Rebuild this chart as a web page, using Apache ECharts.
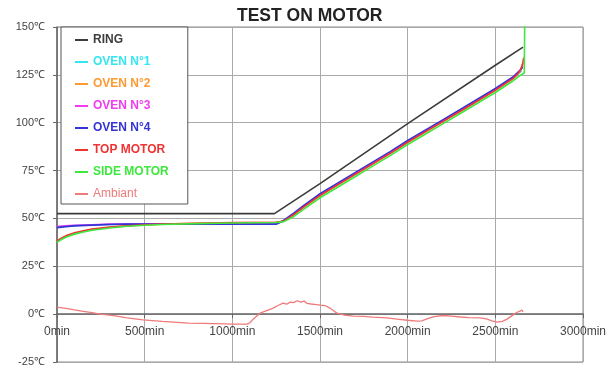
<!DOCTYPE html>
<html>
<head>
<meta charset="utf-8">
<script src="https://cdn.jsdelivr.net/npm/echarts@6/dist/echarts.min.js"></script>
<style>
  html, body { margin: 0; padding: 0; background: #fff; }
  #chart { width: 613px; height: 371px; }
</style>
</head>
<body>
<div id="chart"></div>
<script>
// Axis ticks
const xTicks = [0, 500, 1000, 1500, 2000, 2500, 3000];
const yTicks = [-25, 0, 25, 50, 75, 100, 125, 150];

// Temperature logs (time in minutes, temperature in °C)
const ringTime = [0, 1240, 1500, 2000, 2500, 2658];
const ringTemp = [52.5, 52.5, 68.2, 99.5, 130, 139.5];

const oven1Time = [0, 50, 100, 200, 300, 400, 500, 750, 1000, 1250, 1290, 1350, 1400, 1500, 1600, 1700, 1800, 1900, 2000, 2100, 2200, 2300, 2400, 2500, 2600, 2630, 2650];
const oven1Temp = [45.6, 46, 46.3, 46.6, 46.9, 47, 47.1, 47.1, 47.1, 47.2, 48.4, 52, 55.5, 62.1, 67.6, 73.1, 78.6, 84.1, 89.9, 95.3, 100.7, 106.1, 111.6, 117.1, 123.1, 125.4, 127];

const oven2Time = [0, 25, 50, 100, 150, 200, 300, 400, 500, 600, 800, 1000, 1250, 1290, 1350, 1400, 1500, 1600, 1700, 1800, 1900, 2000, 2100, 2200, 2300, 2400, 2500, 2600, 2640, 2660];
const oven2Temp = [38, 39.5, 40.7, 42.3, 43.3, 44.2, 45.3, 46.1, 46.6, 47, 47.4, 47.7, 48, 48.6, 51.9, 55.4, 61.9, 67.4, 72.9, 78.4, 83.9, 89.7, 95.1, 100.5, 105.9, 111.4, 116.9, 122.9, 126.5, 131.5];

const oven3Time = [0, 50, 100, 200, 300, 400, 500, 750, 1000, 1250, 1290, 1350, 1400, 1500, 1600, 1700, 1800, 1900, 2000, 2100, 2200, 2300, 2400, 2500, 2600, 2640, 2656];
const oven3Temp = [45.8, 46.1, 46.4, 46.7, 47, 47.1, 47.2, 47.2, 47.2, 47.3, 48.6, 52.3, 55.8, 62.4, 67.9, 73.4, 78.9, 84.4, 90.2, 95.6, 101, 106.4, 111.9, 117.4, 123.4, 127, 130];

const oven4Time = [0, 50, 100, 200, 300, 400, 500, 750, 1000, 1250, 1290, 1350, 1400, 1500, 1600, 1700, 1800, 1900, 2000, 2100, 2200, 2300, 2400, 2500, 2600, 2640, 2656];
const oven4Temp = [45.2, 45.7, 46.1, 46.5, 46.8, 47, 47, 47, 47, 47, 48.8, 52.8, 56.3, 62.9, 68.4, 73.9, 79.4, 84.9, 90.7, 96.1, 101.5, 106.9, 112.4, 117.9, 123.9, 127.3, 129];

const topMotorTime = [0, 25, 50, 100, 150, 200, 300, 400, 500, 600, 800, 1000, 1250, 1290, 1350, 1400, 1500, 1600, 1700, 1800, 1900, 2000, 2100, 2200, 2300, 2400, 2500, 2600, 2620, 2645, 2655, 2662];
const topMotorTemp = [38.2, 39.7, 40.9, 42.5, 43.5, 44.4, 45.5, 46.2, 46.7, 47.1, 47.5, 47.8, 48, 48.5, 52, 55.5, 62, 67.5, 73, 78.5, 84, 89.8, 95.2, 100.6, 106, 111.5, 117, 123, 124.7, 127.8, 130.5, 134];

const sideMotorTime = [0, 25, 50, 100, 150, 200, 300, 400, 500, 600, 800, 1000, 1250, 1290, 1350, 1400, 1500, 1600, 1700, 1800, 1900, 2000, 2100, 2200, 2300, 2400, 2500, 2600, 2640, 2665, 2668, 2668];
const sideMotorTemp = [37.5, 39, 40.2, 41.8, 42.9, 43.8, 45, 45.9, 46.4, 46.8, 47.3, 47.6, 47.9, 48.2, 50.9, 54.3, 60.8, 66.3, 71.8, 77.3, 82.8, 88.6, 94, 99.4, 104.8, 110.3, 115.8, 121.8, 124.6, 126, 126.5, 156];

const ambientTime = [0, 50, 100, 150, 200, 245, 300, 350, 400, 490, 600, 750, 900, 1000, 1085, 1100, 1120, 1158, 1200, 1230, 1260, 1290, 1310, 1330, 1350, 1370, 1390, 1410, 1426, 1450, 1480, 1500, 1530, 1560, 1597, 1640, 1690, 1750, 1800, 1882, 1950, 2000, 2053, 2080, 2110, 2150, 2200, 2250, 2300, 2350, 2412, 2450, 2480, 2510, 2540, 2567, 2600, 2624, 2640, 2652, 2658];
const ambientTemp = [3.7, 3, 2.2, 1.5, 0.8, 0, -0.5, -1.2, -2, -3, -3.8, -4.7, -5, -5.2, -5.2, -4.5, -2.5, 0.5, 2, 3, 4.5, 5.8, 5.2, 6.3, 6, 7, 6.3, 6.8, 5.6, 5.3, 5, 4.7, 4.4, 3, 0.5, -0.5, -1, -1.2, -1.6, -2, -2.7, -3.2, -3.7, -3.5, -2.5, -1.3, -0.7, -1, -1.5, -1.8, -2, -2.5, -3.5, -4.2, -3.8, -2.6, -0.5, 1, 1.6, 2.1, 1.2];

const zip = (t, v) => t.map((x, i) => [x, v[i]]);

const seriesDefs = [
  { name: 'RING',       color: '#3c3c3c', t: ringTime,      v: ringTemp,      bold: true },
  { name: 'OVEN N°1',   color: '#33e6f0', t: oven1Time,     v: oven1Temp,     bold: true },
  { name: 'OVEN N°2',   color: '#ff9a33', t: oven2Time,     v: oven2Temp,     bold: true },
  { name: 'OVEN N°3',   color: '#f03cf0', t: oven3Time,     v: oven3Temp,     bold: true },
  { name: 'OVEN N°4',   color: '#3333d6', t: oven4Time,     v: oven4Temp,     bold: true },
  { name: 'TOP MOTOR',  color: '#f03434', t: topMotorTime,  v: topMotorTemp,  bold: true },
  { name: 'SIDE MOTOR', color: '#3ee83e', t: sideMotorTime, v: sideMotorTemp, bold: true },
  { name: 'Ambiant',    color: '#f07a7a', t: ambientTime,   v: ambientTemp,   bold: false }
];

// Plot box in pixels
const gridLeft = 57, gridRight = 30, gridTop = 27, gridBottom = 9;
const plotHeight = 371 - gridTop - gridBottom;
const yMin = yTicks[0], yMax = yTicks[yTicks.length - 1];
// The time axis sits on the 0℃ line, labels included
const zeroLineOffset = -plotHeight * (0 - yMin) / (yMax - yMin);

const chart = echarts.init(document.getElementById('chart'), null, { renderer: 'canvas' });

chart.setOption({
  animation: false,
  backgroundColor: '#fff',
  title: {
    text: 'TEST ON MOTOR',
    left: 237,
    top: 7,
    padding: 0,
    textStyle: { fontFamily: 'Arial', fontSize: 17.5, fontWeight: 'bold', color: '#222' }
  },
  grid: {
    left: gridLeft, right: gridRight, top: gridTop, bottom: gridBottom,
    containLabel: false,
    outerBoundsMode: 'none',
    show: true, borderColor: '#888', borderWidth: 1, backgroundColor: '#fff'
  },
  legend: {
    orient: 'vertical',
    left: 61, top: 27,
    padding: [6, 19, 3, 14],
    icon: 'rect',
    itemWidth: 13, itemHeight: 2, itemGap: 8,
    backgroundColor: '#fff',
    borderColor: '#555', borderWidth: 1,
    data: seriesDefs.map(s => ({
      name: s.name,
      itemStyle: { color: s.color },
      textStyle: { color: s.color, fontWeight: s.bold ? 'bold' : 'normal', fontFamily: 'Arial', fontSize: 12, lineHeight: 14 }
    }))
  },
  xAxis: {
    type: 'value',
    min: xTicks[0], max: xTicks[xTicks.length - 1], interval: 500,
    offset: zeroLineOffset,
    axisLine: { onZero: false, lineStyle: { color: '#666', width: 1.5 } },
    axisTick: { show: true, length: 4, lineStyle: { color: '#666' } },
    axisLabel: { formatter: v => v + 'min', margin: 12, color: '#444', fontFamily: 'Arial', fontSize: 12 },
    splitLine: { show: true, lineStyle: { color: '#aaa', width: 1 } }
  },
  yAxis: {
    type: 'value',
    min: yMin, max: yMax, interval: 25,
    axisLine: { show: true, onZero: false, lineStyle: { color: '#666', width: 1.5 } },
    axisTick: { show: true, length: 4, lineStyle: { color: '#666' } },
    axisLabel: { formatter: v => v + '℃', margin: 12, color: '#444', fontFamily: 'Arial', fontSize: 11 },
    splitLine: { show: true, lineStyle: { color: '#aaa', width: 1 } }
  },
  series: seriesDefs.map(s => ({
    name: s.name,
    type: 'line',
    data: zip(s.t, s.v),
    symbol: 'none',
    smooth: false,
    clip: true,
    color: s.color,
    lineStyle: { color: s.color, width: s.name === 'Ambiant' ? 1.3 : 1.6 }
  }))
});
</script>
</body>
</html>
